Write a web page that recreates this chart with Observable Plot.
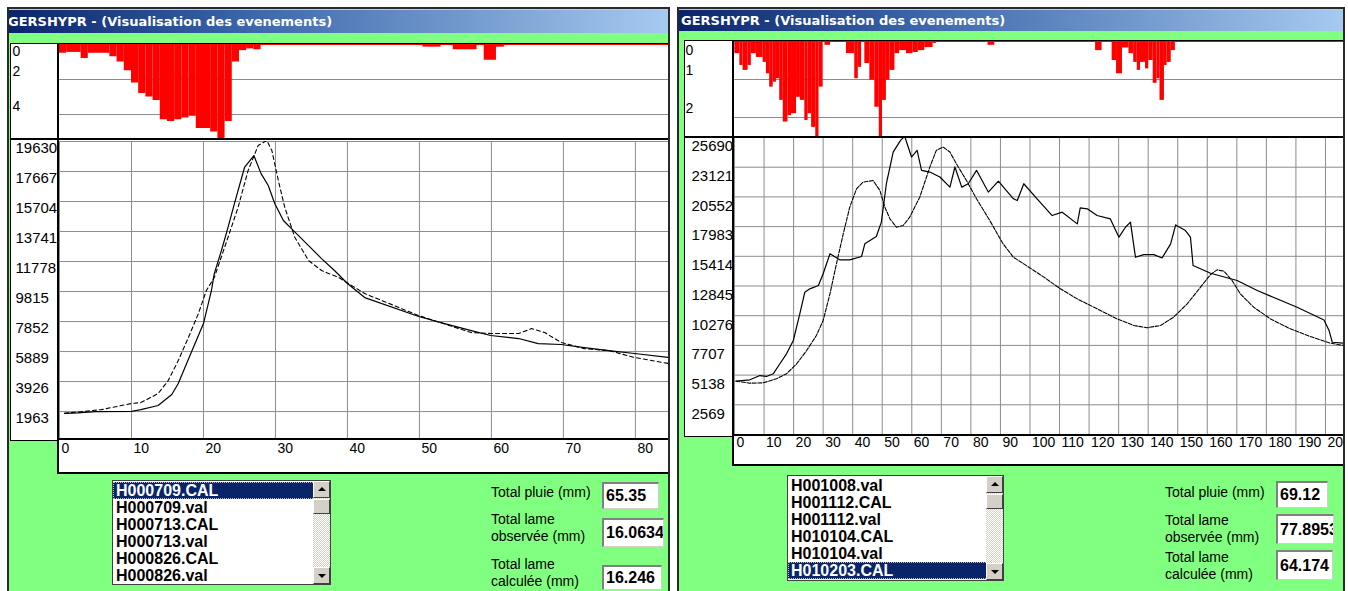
<!DOCTYPE html>
<html><head><meta charset="utf-8">
<script src="https://cdn.jsdelivr.net/npm/d3@7"></script>
<script src="https://cdn.jsdelivr.net/npm/@observablehq/plot@0.6"></script>
<style>
html,body{margin:0;padding:0;background:#fff;}
#root{position:relative;width:1348px;height:591px;overflow:hidden;}
.a{position:absolute;box-sizing:border-box;}
.nar{font-family:"Liberation Sans Narrow","Arial Narrow","Liberation Sans",Arial,sans-serif;}
.title{color:#fff;font:bold 13px "DejaVu Sans",Tahoma,sans-serif;white-space:nowrap;overflow:hidden;background:linear-gradient(to right,#0a246a 0%,#3a64a8 35%,#a6caf0 100%);}
.lb{background:#fff;border:1px solid #404040;overflow:hidden;}
.item{position:absolute;left:0;height:17px;line-height:17px;font-weight:bold;font-size:16px;padding-left:3px;color:#000;}
.sel{background:#0a246a;color:#fff;outline:1px dotted #c0c0c0;outline-offset:-1px;}
.sb{background:repeating-conic-gradient(#d4d0c8 0 25%,#ffffff 0 50%) 0 0/2px 2px;}
.btn{background:#d4d0c8;border-top:1px solid #fff;border-left:1px solid #fff;border-right:1px solid #404040;border-bottom:1px solid #404040;}
.lab{font-size:14px;line-height:17px;color:#000;white-space:nowrap;}
.box{background:#fff;border-top:2px solid #808080;border-left:2px solid #808080;border-right:1px solid #d4d0c8;border-bottom:1px solid #d4d0c8;font-weight:bold;font-size:16px;padding-left:2px;overflow:hidden;white-space:nowrap;color:#000;}
.k{background:#000;}
</style></head><body>
<div id="root"></div>
<script>
// ---------------- DATA ----------------
const titleText = "GERSHYPR - (Visualisation des evenements)";

// Left event: rainfall bars [start, end, mm]
const rainLeft = [
  [0,1,0.5],[1,3,0.45],[3,4,0.8],[4,7,0.5],[7,8,0.7],[8,9,1.0],[9,10,1.5],[10,11,2.2],
  [11,12,2.8],[12,13,3.0],[13,14,3.2],[14,15,4.3],[15,16,4.4],[16,17,4.3],[17,18,4.2],
  [18,19,4.1],[19,20,4.8],[20,21,4.8],[21,22,5.0],[22,23,5.4],[23,24,4.4],[24,25,1.0],
  [25,26,0.35],[26,27,0.25],[27,28,0.3],[50.5,53,0.15],[54.7,58,0.3],[59,60.7,0.9],[60.7,61.8,0.15]
];
const rainLeftTicks0 = [0];
const rainLeftTicks = [2, 4];

// Left event: discharge (solid = observed, dashed = computed)
const leftObsT = [0.7,2.5,5,10,11.3,13.7,15.6,16.5,18.3,20,21.1,21.5,22.5,23.4,24.3,25.7,27,28,29,29.9,31.1,32.5,34.6,36.4,38.2,40,42.4,49.9,53.5,57.2,59.9,63.8,66.5,69.7,72.9,76.3,79.9,84.7];
const leftObsQ = [1850,1880,1960,1980,2090,2360,3080,3800,5820,7720,9880,10990,12500,14000,15570,17930,18710,17530,16750,15570,14460,13800,12820,11970,11190,10340,9420,8180,7720,7260,6940,6740,6410,6350,6150,5950,5760,5500];
const leftCalcT = [0.7,3,5.8,10,11.3,13.7,15.1,16.5,17.9,19.3,20.4,21.5,23.4,24.8,26.2,27.6,28.8,29.5,30.4,31.3,32.7,34.6,36.4,38.8,42.4,49.9,57.2,59.9,63.8,65.6,67.4,69.7,72.9,76.3,79.9,84.7];
const leftCalcQ = [1850,1950,2090,2490,2550,3140,3990,5300,6800,8380,9880,10730,13350,15310,17730,19370,19700,19040,17080,15310,13350,11840,11190,10730,9680,8240,7130,7070,7070,7390,7130,6480,6080,5950,5500,5100];
const leftXTicks = [0,10,20,30,40,50,60,70,80];
const leftYTicks = [1963,3926,5889,7852,9815,11778,13741,15704,17667,19630];

// Right event
const rainRight = [
  [0.1,1.8,0.32],[1.8,2.9,0.63],[2.9,4.6,0.76],[4.6,5.7,0.63],[5.7,7.4,0.32],[7.4,9.7,0.42],
  [9.7,10.8,0.55],[10.8,11.9,0.85],[11.9,13.1,1.2],[13.1,14.2,1.07],[14.2,15.3,0.98],[15.3,16.5,1.55],
  [16.5,18.1,2.12],[18.1,19.3,1.95],[19.3,21,1.9],[21,22.3,1.47],[22.3,23.8,1.55],[23.8,24.9,2.08],
  [24.9,26.1,1.9],[26.1,27.5,2.26],[27.5,28.6,2.5],[28.6,30,1.2],[30.6,32.5,0.1],[37.9,40.7,0.32],
  [40.7,41.9,0.98],[41.9,43,0.68],[44.1,45.8,0.58],[45.8,47.5,1.02],[47.5,49,1.73],[49,50.1,2.5],
  [50.1,51.4,1.55],[51.4,52.6,1.02],[52.6,54.3,0.76],[54.3,55.9,0.32],[55.9,58.2,0.24],[58.2,60.4,0.32],
  [60.4,62.2,0.29],[62.2,64.4,0.24],[64.4,67.2,0.16],[67.2,68.4,0.05],[85.8,88.1,0.1],
  [122.2,124.4,0.24],[127.8,129.3,0.5],[129.3,131.3,0.85],[131.3,133.5,0.17],[133.5,135.1,0.32],
  [135.1,136.3,0.55],[136.3,137.4,0.76],[137.4,139.1,0.55],[139.1,140.2,0.72],[140.2,141.7,0.5],
  [141.7,143,1.1],[143,144,0.98],[144,145.5,1.55],[145.5,146.4,0.63],[146.4,147.8,0.55],[147.8,149.2,0.24]
];
const rainRightTicks0 = [0];
const rainRightTicks = [1, 2];

const rightObsT = [0.5,5.2,8.6,10.8,13.1,15.3,17.6,19.9,22.1,23.8,25.5,28.4,30,32.3,35.6,39,43,44.1,48,49.7,51.4,53.7,56.2,57.6,59.9,61.8,63.3,66.1,69.5,72.9,74.6,76.9,79.1,81.9,85.9,89.3,94.4,95.7,97.9,102.4,107.5,110.9,116,117,119.4,122.7,127.2,130.1,132.3,134,135.7,138.5,141.9,144.7,147.6,149.3,152.6,154.3,155.2,161.1,170.1,176.9,190.4,199.5,201.2,202.3,206.2];
const rightObsQ = [4610,4730,5100,5020,5250,6100,6980,8130,10440,12310,12600,12890,13900,15630,15110,15110,15400,16490,17130,18370,21690,24430,25440,25790,24000,24580,22850,22700,22270,21400,23140,21400,21690,22850,20970,21920,20390,20240,21690,20390,18940,19230,18220,19600,19520,18940,18650,17070,17930,18370,15330,15560,15560,15270,16490,18130,17640,17070,14620,13950,13320,12450,11010,9910,9000,7980,7900];
const rightCalcT = [0.5,5.2,9.7,14.2,17.6,21,24.4,27.7,30,32.3,34.5,36.8,39,41.3,43.5,46.9,49.2,50.9,52.6,54.8,57.1,59.3,62.7,66.1,68.3,70.6,72.9,75.1,78.5,81.9,86.4,90.9,94.4,97.9,104.7,110.3,116,122.7,129.5,135.1,139.6,144.2,148.6,153.2,157.7,161.1,163.3,165.6,168.4,171.2,175.7,181.4,188.1,194.9,201.7,206.2];
const rightCalcQ = [4610,4440,4470,4820,5250,6100,7260,8560,9860,12160,14760,17360,19660,21250,21830,21970,21110,19660,18650,17930,18080,18800,20530,23130,24580,24860,24430,23420,21970,20390,18510,16490,15330,14760,13610,12600,11730,10870,10000,9430,9230,9430,10150,11300,12740,13840,14240,14130,13320,12160,11010,10000,9140,8470,7900,7700];
const rightXTicks = [0,10,20,30,40,50,60,70,80,90,100,110,120,130,140,150,160,170,180,190,200];
const rightYTicks = [2569,5138,7707,10276,12845,15414,17983,20552,23121,25690];

// File lists and totals
const leftFiles = ["H000709.CAL","H000709.val","H000713.CAL","H000713.val","H000826.CAL","H000826.val"];
const rightFiles = ["H001008.val","H001112.CAL","H001112.val","H010104.CAL","H010104.val","H010203.CAL"];
const totalLabels = ["Total pluie (mm)","Total lame<br>observée (mm)","Total lame<br>calculée (mm)"];
const leftTotals = ["65.35","16.0634","16.246"];
const rightTotals = ["69.12","77.8953","64.174"];

// ---------------- LAYOUT ----------------
const FONT = '"Liberation Sans Narrow","Arial Narrow","Liberation Sans",Arial,sans-serif';
const root = document.getElementById("root");
function div(cls, x, y, w, h, extra) {
  const d = document.createElement("div");
  d.className = "a " + (cls || "");
  d.style.left = x + "px"; d.style.top = y + "px";
  if (w != null) d.style.width = w + "px";
  if (h != null) d.style.height = h + "px";
  if (extra) Object.assign(d.style, extra);
  root.appendChild(d);
  return d;
}
function place(node, x, y) {
  const d = div("", x, y);
  d.appendChild(node);
  return d;
}

const panels = [
  {
    win: [7, 7, 663, 600], title: [9, 10, 659, 23], indent: -1,
    chartL: 10, chartR: 668, plotL: 59, rainTop: 43, rainBot: 139, plotTop: 141, axisY: 438, stripBot: 473, boxBot: 440,
    xDomain: [0, 84.6], yDomain: [200, 19630], rainMax: 5.37,
    rain: rainLeft, rainT0: rainLeftTicks0, rainT: rainLeftTicks, rainDy0: 7, rainDy: -8, rainDx: -47,
    obsT: leftObsT, obsQ: leftObsQ, calcT: leftCalcT, calcQ: leftCalcQ, dash: "4,3",
    xTicks: leftXTicks, yTicks: leftYTicks, yDx: -44, yDy: 7, xDy: 5,
    files: leftFiles, sel: 0, list: [112, 480, 219, 105],
    labX: 491, labY: [484, 511, 556], boxes: [[602,482,57,27],[602,518,62,29],[602,565,60,25]], totals: leftTotals
  },
  {
    win: [677, 7, 668, 600], title: [679, 10, 664, 21], indent: 2,
    chartL: 684, chartR: 1343, plotL: 734, rainTop: 40, rainBot: 137, plotTop: 137, axisY: 434, stripBot: 465, boxBot: 436,
    xDomain: [0, 206.1], yDomain: [0, 25690], rainMax: 2.5,
    rain: rainRight, rainT0: rainRightTicks0, rainT: rainRightTicks, rainDy0: 9, rainDy: -9, rainDx: -49,
    obsT: rightObsT, obsQ: rightObsQ, calcT: rightCalcT, calcQ: rightCalcQ, dash: "4,1.5",
    xTicks: rightXTicks, yTicks: rightYTicks, yDx: -43, yDy: 9, xDy: 3,
    files: rightFiles, sel: 5, list: [787, 475, 217, 106],
    labX: 1165, labY: [484, 512, 549], boxes: [[1276,481,52,27],[1276,514,58,30],[1276,550,57,30]], totals: rightTotals
  }
];

for (const p of panels) {
  // window + title
  div("", p.win[0], p.win[1], p.win[2], p.win[3], {background: "#80ff80", borderLeft: "2px solid #2a2a2a", borderTop: "2px solid #2a2a2a", borderRight: "2px solid #2a2a2a"});
  const t = div("title", p.title[0], p.title[1], p.title[2], p.title[3], {lineHeight: p.title[3] + "px", textIndent: p.indent + "px"});
  t.textContent = titleText;

  const w = p.chartR - p.chartL;
  // white chart block
  div("", p.chartL, p.rainTop, w, p.stripBot - p.rainTop, {background: "#fff"});
  // green corner below the label box
  div("", p.chartL - 1, p.boxBot + 1, p.plotL - p.chartL - 1, p.stripBot - p.boxBot + 4, {background: "#80ff80"});

  // rain chart
  const rainPlot = Plot.plot({
    width: w, height: p.rainBot - p.rainTop,
    marginLeft: p.plotL - p.chartL, marginRight: 0, marginTop: 1, marginBottom: 1,
    style: {background: "transparent", overflow: "hidden", fontFamily: FONT},
    x: {domain: p.xDomain, axis: null},
    y: {domain: [0, p.rainMax], reverse: true, label: null},
    marks: [
      Plot.gridY(p.rainT, {stroke: "#8c8c8c", strokeOpacity: 1}),
      Plot.rect(p.rain, {x1: d => d[0], x2: d => d[1], y1: 0, y2: d => d[2], fill: "#ff0000", clip: true}),
      Plot.ruleY([0], {stroke: "#ff0000"}),
      Plot.axisY(p.rainT0, {anchor: "left", tickSize: 0, tickPadding: 0, textAnchor: "start", dx: p.rainDx, dy: p.rainDy0, fontSize: 14, label: null, tickFormat: d => String(d)}),
      Plot.axisY(p.rainT, {anchor: "left", tickSize: 0, tickPadding: 0, textAnchor: "start", dx: p.rainDx, dy: p.rainDy, fontSize: 14, label: null, tickFormat: d => String(d)})
    ]
  });
  place(rainPlot, p.chartL, p.rainTop);

  // discharge chart
  const flowTop = p.rainBot;
  const flowPlot = Plot.plot({
    width: w, height: p.stripBot - flowTop,
    marginLeft: p.plotL - p.chartL, marginRight: 0, marginTop: p.plotTop - flowTop, marginBottom: p.stripBot - p.axisY,
    style: {background: "transparent", overflow: "hidden", fontFamily: FONT},
    x: {domain: p.xDomain, label: null},
    y: {domain: p.yDomain, label: null},
    marks: [
      Plot.gridX(p.xTicks, {stroke: "#8c8c8c", strokeOpacity: 1}),
      Plot.gridY(p.yTicks, {stroke: "#8c8c8c", strokeOpacity: 1}),
      Plot.line(d3.zip(p.calcT, p.calcQ), {x: d => d[0], y: d => d[1], stroke: "#000", strokeWidth: 1.1, strokeDasharray: p.dash, clip: true}),
      Plot.line(d3.zip(p.obsT, p.obsQ), {x: d => d[0], y: d => d[1], stroke: "#000", strokeWidth: 1.2, clip: true}),
      Plot.axisY(p.yTicks, {anchor: "left", tickSize: 0, tickPadding: 0, textAnchor: "start", dx: p.yDx, dy: p.yDy, fontSize: 15, label: null, tickFormat: d => String(d)}),
      Plot.axisX(p.xTicks, {anchor: "bottom", tickSize: 0, tickPadding: 0, textAnchor: "start", dx: 2, dy: p.xDy, fontSize: 14, label: null, tickFormat: d => String(d)})
    ]
  });
  place(flowPlot, p.chartL, flowTop);

  // border lines
  div("k", p.chartL, p.rainTop, w, 1);                         // top of rain block
  div("k", p.chartL, p.rainBot - 1, w, 2);                     // rain / flow boundary
  div("k", p.plotL - 2, p.rainTop, 2, p.stripBot - p.rainTop);  // left of plot area
  div("k", p.chartL, p.rainTop, 1, p.boxBot - p.rainTop);       // left of label box
  div("k", p.chartL, p.boxBot, p.plotL - p.chartL, 1);          // bottom of label box
  div("k", p.plotL - 2, p.axisY, p.chartR - p.plotL + 2, 2);    // x axis line
  div("k", p.plotL - 2, p.stripBot - 1, p.chartR - p.plotL + 2, 2); // bottom of strip

  // list box
  const [lx, ly, lw, lh] = p.list;
  const lb = div("lb nar", lx, ly, lw, lh);
  p.files.forEach((f, i) => {
    const it = document.createElement("div");
    it.className = "item" + (i === p.sel ? " sel" : "");
    it.style.top = (1 + i * 17) + "px";
    it.style.width = (lw - 20) + "px";
    it.textContent = f;
    lb.appendChild(it);
  });
  // scrollbar
  const sx = lx + lw - 18;
  div("sb", sx, ly + 1, 17, lh - 2);
  const up = div("btn", sx, ly + 1, 17, 17);
  up.innerHTML = '<div style="position:absolute;left:4px;top:5px;width:0;height:0;border-left:4px solid transparent;border-right:4px solid transparent;border-bottom:4px solid #000"></div>';
  div("btn", sx, ly + 19, 17, 15);
  const dn = div("btn", sx, ly + lh - 18, 17, 17);
  dn.innerHTML = '<div style="position:absolute;left:4px;top:6px;width:0;height:0;border-left:4px solid transparent;border-right:4px solid transparent;border-top:4px solid #000"></div>';

  // totals
  totalLabels.forEach((lab, i) => {
    const l = div("lab nar", p.labX, p.labY[i]);
    l.innerHTML = lab;
    const b = p.boxes[i];
    const bx = div("box nar", b[0], b[1], b[2], b[3], {lineHeight: (b[3] - 3) + "px"});
    bx.textContent = p.totals[i];
  });
}
</script>
</body></html>
